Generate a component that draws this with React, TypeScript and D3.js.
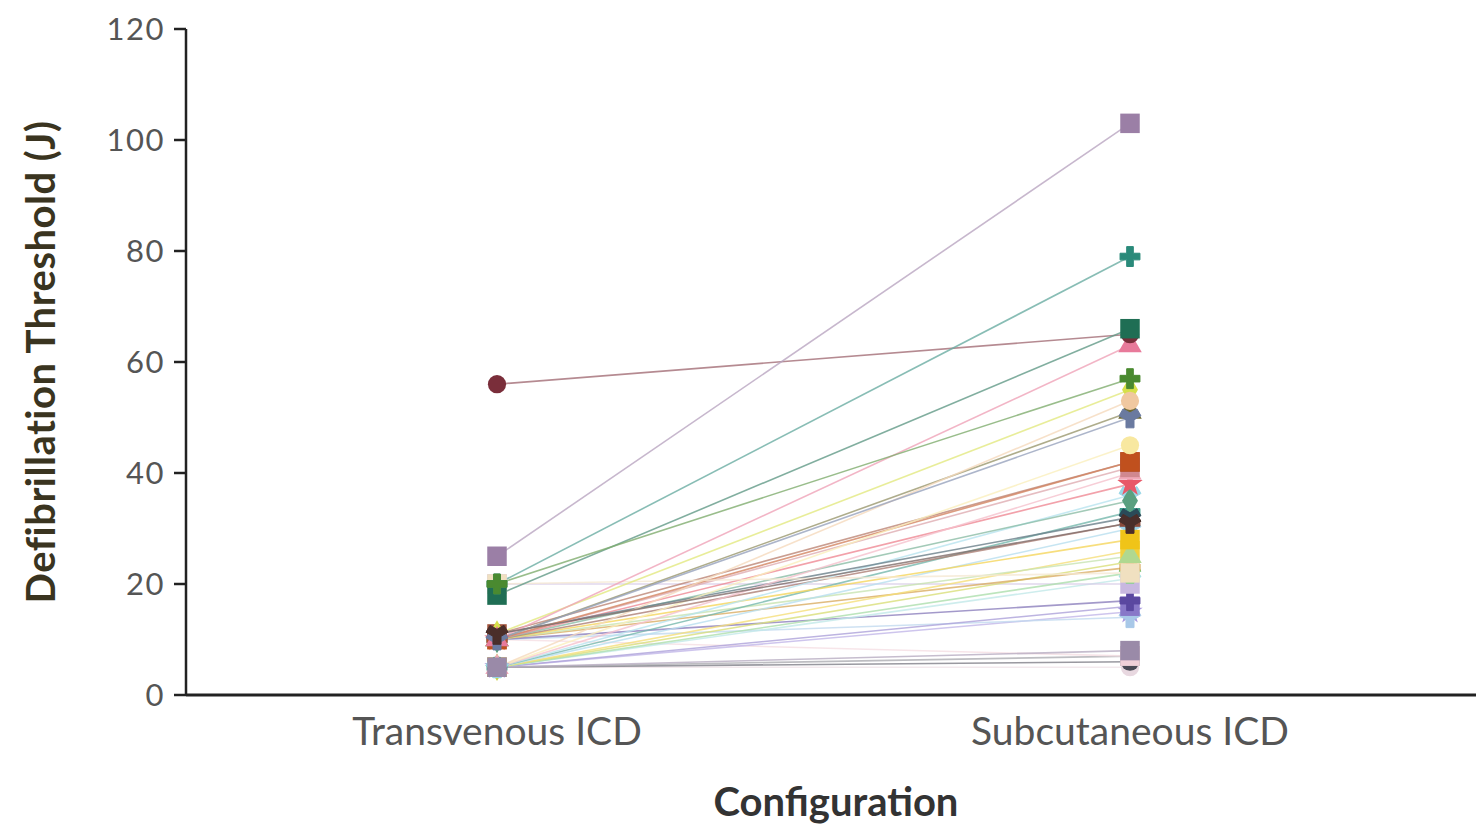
import React from "react";
import * as d3 from "d3";

const categories = ["Transvenous ICD", "Subcutaneous ICD"];
const yTicks = [0, 20, 40, 60, 80, 100, 120];

// Each subject (same index across arrays): transvenous value, subcutaneous value, colour, marker
const transvenous = [5, 5, 5, 10, 5, 10, 5, 10, 5, 20, 5, 5, 10, 5, 10, 5, 5, 10, 10, 5, 10, 10, 11, 5, 10, 11, 10, 20, 10, 11, 10, 56, 18, 25, 20, 20, 5, 5, 5, 10, 11];
const subcutaneous = [5, 6, 7, 7, 15, 14, 16, 17, 21, 20, 22, 24, 23, 26, 25, 30, 33, 28, 31, 36, 35, 38, 32, 40, 41, 42, 42, 22, 51, 55, 63, 65, 66, 103, 79, 57, 45, 53, 8, 50, 31];
const colors = ["#e8d8e0", "#4a4a55", "#8a8a90", "#f0d0d8", "#a898e0", "#a8c8e8", "#8878c8", "#5a48a0", "#a8e0e0", "#c8b8e0", "#8ad08a", "#c8d040", "#c88a20", "#f0d040", "#b0d890", "#9ad0e8", "#3a9a8a", "#f0c418", "#8a4a3a", "#9ad8e8", "#5aa080", "#e85868", "#2a4a58", "#f0a8b8", "#d08890", "#a0523a", "#c0501e", "#f0e0c0", "#6e6a30", "#d6e04a", "#e87a9a", "#7a2e3a", "#1f6e54", "#9b7fa6", "#2a8a7a", "#4a8a30", "#f8e8a0", "#f0c8a0", "#9a8aa8", "#6a7aa0", "#4a2e2a"];
const markers = ["circle", "circle", "square", "square", "star", "wye", "square", "cross", "wye", "square", "wye", "diamond", "cross", "square", "triangle", "wye", "cross", "square", "cross", "wye", "diamond", "star", "wye", "triangle", "square", "square", "square", "square", "triangle", "diamond", "triangle", "circle", "square", "square", "cross", "cross", "circle", "circle", "square", "wye", "wye"];

const symbolTypes: Record<string, d3.SymbolType> = {
  circle: d3.symbolCircle,
  square: d3.symbolSquare,
  diamond: d3.symbolDiamond,
  triangle: d3.symbolTriangle,
  cross: d3.symbolCross,
  star: d3.symbolStar,
  wye: d3.symbolWye,
};
const symbolSize: Record<string, number> = {
  circle: 260,
  square: 380,
  diamond: 220,
  triangle: 240,
  cross: 220,
  star: 200,
  wye: 220,
};

const W = 1476;
const H = 827;

export default function App() {
  const y = d3.scaleLinear().domain([0, 120]).range([695, 29]);
  const x = d3.scalePoint<string>().domain(categories).range([497, 1130]);
  const line = d3.line<[number, number]>().x((d) => d[0]).y((d) => d[1]);
  const font = "Lato, 'Open Sans', sans-serif";

  const subjects = transvenous.map((tv, i) => ({
    tv,
    sc: subcutaneous[i],
    color: colors[i],
    marker: markers[i],
  }));

  const sym = (m: string) => d3.symbol().type(symbolTypes[m]).size(symbolSize[m])()!;
  const sw = (m: string) => (m === "wye" || m === "cross" ? 1 : 0);

  return (
    <svg width={W} height={H} style={{ position: "absolute", left: 0, top: 0, background: "#fff" }}>
      {/* lines */}
      <g>
        {subjects.map((s, i) => (
          <path
            key={"l" + i}
            d={line([
              [x(categories[0])!, y(s.tv)],
              [x(categories[1])!, y(s.sc)],
            ])!}
            fill="none"
            stroke={d3.interpolateRgb(s.color, "#ffffff")(0.3)}
            strokeWidth={1.6}
            strokeOpacity={0.8}
          />
        ))}
      </g>
      {/* markers, transvenous */}
      <g>
        {subjects.map((s, i) => (
          <path key={"a" + i} d={sym(s.marker)} transform={`translate(${x(categories[0])},${y(s.tv)})`} fill={s.color} stroke={s.color} strokeWidth={sw(s.marker)} />
        ))}
      </g>
      {/* markers, subcutaneous */}
      <g>
        {subjects.map((s, i) => (
          <path key={"b" + i} d={sym(s.marker)} transform={`translate(${x(categories[1])},${y(s.sc)})`} fill={s.color} stroke={s.color} strokeWidth={sw(s.marker)} />
        ))}
      </g>
      {/* y axis */}
      <line x1={186} x2={186} y1={y(120)} y2={y(0)} stroke="#222" strokeWidth={2.5} />
      {yTicks.map((t) => (
        <g key={"t" + t}>
          <line x1={174} x2={186} y1={y(t)} y2={y(t)} stroke="#222" strokeWidth={2.5} />
          <text x={165} y={y(t)} dy="0.35em" textAnchor="end" fontFamily={font} fontSize={31} letterSpacing={1.5} fill="#555">
            {t}
          </text>
        </g>
      ))}
      {/* x axis */}
      <line x1={186} x2={W} y1={y(0)} y2={y(0)} stroke="#222" strokeWidth={3} />
      {categories.map((c) => (
        <text key={c} x={x(c)} y={745} textAnchor="middle" fontFamily={font} fontSize={39} fill="#555">
          {c}
        </text>
      ))}
      <text x={836} y={816} textAnchor="middle" fontFamily={font} fontSize={40} fontWeight="bold" fill="#333">
        Configuration
      </text>
      <text
        transform={`translate(55,362) rotate(-90)`}
        textAnchor="middle"
        fontFamily={font}
        fontSize={40}
        letterSpacing={0.5}
        fontWeight="bold"
        fill="#3a3420"
      >
        Defibrillation Threshold (J)
      </text>
    </svg>
  );
}
